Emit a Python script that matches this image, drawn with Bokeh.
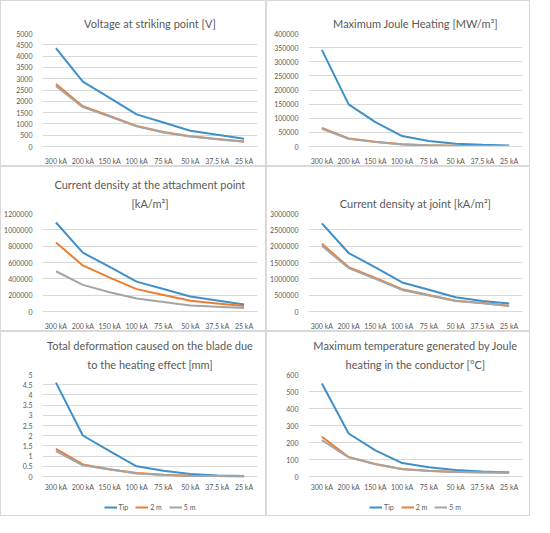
from bokeh.plotting import figure
from bokeh.models import Range1d, FactorRange, FixedTicker, NumeralTickFormatter, Legend, LegendItem, Title
from bokeh.core.properties import value
from bokeh.layouts import gridplot
from bokeh.embed import file_html
from bokeh.resources import INLINE

currents = ["300 kA", "200 kA", "150 kA", "100 kA", "75 kA", "50 kA", "37.5 kA", "25 kA"]
series_names = ["Tip", "2 m", "5 m"]

volt_tip = [4350, 2870, 2150, 1420, 1060, 700, 520, 340]
volt_2m = [2760, 1780, 1350, 910, 640, 450, 330, 220]
volt_5m = [2680, 1740, 1320, 890, 620, 440, 320, 210]
volt_ticks = [0, 500, 1000, 1500, 2000, 2500, 3000, 3500, 4000, 4500, 5000]

joule_tip = [342000, 149000, 86000, 37000, 19500, 9500, 6000, 3500]
joule_2m = [65500, 28500, 16500, 8000, 4500, 2300, 1500, 1000]
joule_5m = [63000, 27000, 15500, 7500, 4200, 2100, 1400, 900]
joule_ticks = [0, 50000, 100000, 150000, 200000, 250000, 300000, 350000, 400000]

att_tip = [1090000, 720000, 545000, 366000, 275000, 183000, 135000, 85000]
att_2m = [846000, 564000, 415000, 274000, 203000, 131000, 99000, 68000]
att_5m = [493000, 326000, 236000, 160000, 117000, 74000, 57000, 42000]
att_ticks = [0, 200000, 400000, 600000, 800000, 1000000, 1200000]

joint_tip = [2700000, 1790000, 1350000, 890000, 665000, 435000, 322000, 245000]
joint_2m = [2070000, 1360000, 1030000, 680000, 505000, 330000, 260000, 175000]
joint_5m = [2010000, 1330000, 1000000, 660000, 490000, 320000, 250000, 165000]
joint_ticks = [0, 500000, 1000000, 1500000, 2000000, 2500000, 3000000]

def_tip = [4.6, 2.01, 1.24, 0.5, 0.28, 0.12, 0.05, 0.02]
def_2m = [1.35, 0.59, 0.36, 0.17, 0.08, 0.04, 0.02, 0.01]
def_5m = [1.25, 0.55, 0.34, 0.15, 0.07, 0.03, 0.02, 0.01]
def_ticks = [0, 0.5, 1, 1.5, 2, 2.5, 3, 3.5, 4, 4.5, 5]

temp_tip = [547, 253, 154, 79, 55, 38, 30, 24]
temp_2m = [234, 115, 73, 44, 34, 27, 25, 23]
temp_5m = [214, 113, 72, 43, 33, 26, 24, 22]
temp_ticks = [0, 100, 200, 300, 400, 500, 600]

COLORS = ["#3f8fc8", "#ed7d31", "#a5a5a5"]
FONT = "Lato"
TEXT = "#595959"
GRID = "#d9d9d9"


def style_common(p, titles, ticks, fmt):
    # title lines, nearest to the frame first
    for i, line in enumerate(reversed(titles)):
        t = Title(text=line, align="center", text_font=FONT, text_font_size="11px",
                  text_font_style="normal", text_color=TEXT,
                  standoff=8 if i == 0 else 0, offset=0)
        p.add_layout(t, "above")
    p.outline_line_color = None
    p.xgrid.grid_line_color = None
    p.ygrid.grid_line_color = GRID
    p.yaxis.ticker = FixedTicker(ticks=ticks)
    p.yaxis.formatter = NumeralTickFormatter(format=fmt)
    for ax in (p.xaxis, p.yaxis):
        ax.major_tick_line_color = None
        ax.minor_tick_line_color = None
        ax.major_label_text_font = FONT
        ax.major_label_text_font_size = "7px"
        ax.major_label_text_color = TEXT
        ax.major_label_standoff = 4
    p.yaxis.axis_line_color = None
    p.xaxis.axis_line_color = GRID


def panel(titles, ys, ticks, w, h, borders, fmt="0"):
    left, right, top, bottom = borders
    p = figure(width=w, height=h, x_range=FactorRange(*currents),
               y_range=Range1d(ticks[0], ticks[-1]),
               output_backend="svg", toolbar_location=None,
               min_border_left=left, min_border_right=right,
               min_border_top=top, min_border_bottom=bottom,
               styles={"border": "1px solid #d9d9d9"})
    style_common(p, titles, ticks, fmt)
    for vals, c in zip(ys, COLORS):
        p.line(x=currents, y=vals, line_color=c, line_width=2)
    return p


def legend_panel(titles, ys, ticks, w, h, borders, fmt="0"):
    # bottom-row charts: frame runs down under the category labels so the
    # legend can sit inside it
    left, right, top, bottom = borders
    plot_px, below_px = 102, h - top - bottom - 102
    ymax = ticks[-1]
    ymin = -ymax * below_px / plot_px
    p = figure(width=w, height=h, x_range=FactorRange(*currents),
               y_range=Range1d(ymin, ymax),
               output_backend="svg", toolbar_location=None,
               min_border_left=left, min_border_right=right,
               min_border_top=top, min_border_bottom=bottom,
               styles={"border": "1px solid #d9d9d9"})
    style_common(p, titles, ticks, fmt)
    p.xaxis.visible = False
    p.text(x=currents, y=[-ymax * 10 / plot_px] * len(currents), text=currents,
           text_align="center", text_baseline="middle", text_font=value(FONT),
           text_font_size="7px", text_color=TEXT)
    rs = []
    for vals, c in zip(ys, COLORS):
        rs.append(p.line(x=currents, y=vals, line_color=c, line_width=2))
    lg = Legend(items=[LegendItem(label=n, renderers=[r]) for n, r in zip(series_names, rs)],
                orientation="horizontal", location="bottom_center",
                label_text_font=FONT, label_text_font_size="7px", label_text_color=TEXT,
                glyph_width=13, glyph_height=10, label_height=10, label_width=8,
                label_standoff=2, spacing=7, padding=2, margin=3,
                border_line_color=None, background_fill_alpha=0)
    p.add_layout(lg)
    return p


p1 = panel(["Voltage at striking point [V]"], [volt_tip, volt_2m, volt_5m], volt_ticks,
           266, 166, (29, 10, 32, 19))
p2 = panel(["Maximum Joule Heating [MW/m³]"], [joule_tip, joule_2m, joule_5m], joule_ticks,
           264, 166, (35, 9, 31, 20))
p3 = panel(["Current density at the attachment point", "[kA/m²]"], [att_tip, att_2m, att_5m], att_ticks,
           266, 165, (38, 8, 46, 18))
p4 = panel(["Current density at joint [kA/m²]"], [joint_tip, joint_2m, joint_5m], joint_ticks,
           264, 165, (40, 7, 31, 19))
p5 = legend_panel(["Total deformation caused on the blade due", "to the heating effect [mm]"],
                  [def_tip, def_2m, def_5m], def_ticks, 266, 185, (24, 10, 42, 2), fmt="0[.][0]")
p6 = legend_panel(["Maximum temperature generated by Joule", "heating in the conductor [°C]"],
                  [temp_tip, temp_2m, temp_5m], temp_ticks, 264, 185, (25, 9, 42, 2))

grid = gridplot([[p1, p2], [p3, p4], [p5, p6]], toolbar_location=None)

open("out.html", "w").write(file_html(grid, INLINE))
